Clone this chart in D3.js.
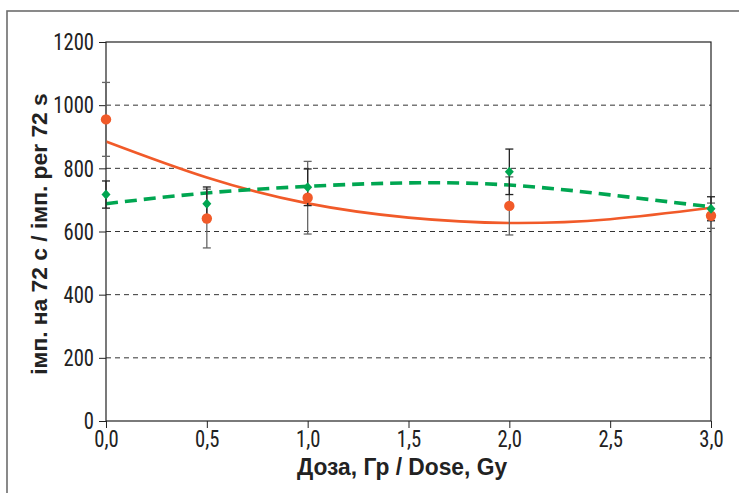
<!DOCTYPE html>
<html>
<head>
<meta charset="utf-8">
<script src="https://cdn.jsdelivr.net/npm/d3@7"></script>
<style>
  body { margin: 0; background: #fff; }
  svg { display: block; }
  .tick-label { font-family: "Liberation Sans Narrow", "Roboto Condensed", Arial, sans-serif; font-size: 24px; fill: #222; }
  .axis-title { font-family: "Liberation Sans Narrow", Arial, sans-serif; font-weight: bold; font-size: 24px; fill: #222; }
  .y-title { font-family: "Liberation Sans", Arial, sans-serif; font-weight: bold; font-size: 22.8px; fill: #222; }
</style>
</head>
<body>
<svg id="chart" width="739" height="493"></svg>
<script>
// measured points (dose in Gy)
const doses = [0, 0.5, 1, 2, 3];
const orangeMean = [955, 641, 707, 681, 650];
const orangeErr = [117, 93, 115, 92, 40];
const greenMean = [717, 688, 740, 789, 672];
const greenErr = [43, 53, 58, 72, 38];

// fitted trend curves
const fitX = [0, 0.5, 1, 1.5, 2, 2.5, 3];
const orangeFit = [885, 771, 689, 644, 627, 639, 675];
const greenFit = [688, 722, 743, 754, 747, 716, 678];

const xTicks = [0, 0.5, 1, 1.5, 2, 2.5, 3];
const yTicks = [0, 200, 400, 600, 800, 1000, 1200];
const gridTicks = [200, 400, 600, 800, 1000];

const ORANGE = '#f15a29';
const GREEN = '#00a651';
const SQUEEZE = 0.86; // labels in the original are very condensed

const svg = d3.select('#chart');

// outer frame
svg.append('rect')
  .attr('x', 7).attr('y', 11)
  .attr('width', 760).attr('height', 500)
  .attr('fill', 'none')
  .attr('stroke', '#6d6d6d')
  .attr('stroke-width', 1.6);

const plotLeft = 106, plotRight = 711, plotTop = 42, plotBottom = 421;

const x = d3.scaleLinear().domain([0, 3]).range([plotLeft, plotRight]);
const y = d3.scaleLinear().domain([0, 1200]).range([plotBottom, plotTop]);

// grid lines
svg.append('g').selectAll('line')
  .data(gridTicks)
  .enter().append('line')
  .attr('x1', plotLeft).attr('x2', plotRight)
  .attr('y1', d => y(d)).attr('y2', d => y(d))
  .attr('stroke', '#333')
  .attr('stroke-width', 1)
  .attr('stroke-dasharray', '5,4');

// plot box
svg.append('rect')
  .attr('x', plotLeft).attr('y', plotTop)
  .attr('width', plotRight - plotLeft).attr('height', plotBottom - plotTop)
  .attr('fill', 'none')
  .attr('stroke', '#222')
  .attr('stroke-width', 1.2);

// axes
const fmt = d => d.toFixed(1).replace('.', ',');

const xAxis = svg.append('g')
  .attr('transform', `translate(0,${plotBottom})`)
  .call(d3.axisBottom(x).tickValues(xTicks).tickSize(7).tickPadding(2).tickFormat(fmt));
xAxis.select('.domain').remove();
xAxis.attr('font-family', null).attr('font-size', null);
xAxis.selectAll('line').attr('stroke', '#222');
xAxis.selectAll('text')
  .attr('class', 'tick-label').attr('fill', null)
  .attr('transform', `scale(${SQUEEZE},1)`);

const yAxis = svg.append('g')
  .attr('transform', `translate(${plotLeft},0)`)
  .call(d3.axisLeft(y).tickValues(yTicks).tickSize(7).tickPadding(5).tickFormat(d => d));
yAxis.select('.domain').remove();
yAxis.attr('font-family', null).attr('font-size', null);
yAxis.selectAll('line').attr('stroke', '#222');
yAxis.selectAll('text')
  .attr('class', 'tick-label').attr('fill', null)
  .attr('x', -12 / SQUEEZE)
  .attr('transform', `scale(${SQUEEZE},1)`);

// axis titles
svg.append('text')
  .attr('class', 'axis-title')
  .attr('transform', 'translate(402,475) scale(0.95,1)')
  .attr('text-anchor', 'middle')
  .text('Доза, Гр / Dose, Gy');

svg.append('text')
  .attr('class', 'y-title')
  .attr('transform', 'translate(47,234) rotate(-90)')
  .attr('text-anchor', 'middle')
  .text('імп. на 72 с / імп. per 72 s');

// fitted curves
const line = (vals) => d3.line()
  .x((d, i) => x(fitX[i]))
  .y(d => y(d))
  .curve(d3.curveNatural)(vals);

svg.append('path')
  .attr('d', line(orangeFit))
  .attr('fill', 'none')
  .attr('stroke', ORANGE)
  .attr('stroke-width', 2.6);

svg.append('path')
  .attr('d', line(greenFit))
  .attr('fill', 'none')
  .attr('stroke', GREEN)
  .attr('stroke-width', 3.6)
  .attr('stroke-dasharray', '12,7');

// error bars
function errorBars(means, errs, color) {
  const g = svg.append('g').attr('stroke', color).attr('stroke-width', 1.3);
  doses.forEach((d, i) => {
    const cx = x(d), lo = y(means[i] - errs[i]), hi = y(means[i] + errs[i]);
    g.append('line').attr('x1', cx).attr('x2', cx).attr('y1', lo).attr('y2', hi);
    g.append('line').attr('x1', cx - 4).attr('x2', cx + 4).attr('y1', lo).attr('y2', lo);
    g.append('line').attr('x1', cx - 4).attr('x2', cx + 4).attr('y1', hi).attr('y2', hi);
  });
}
errorBars(orangeMean, orangeErr, '#666');
errorBars(greenMean, greenErr, '#222');

// markers
svg.append('g').selectAll('circle')
  .data(orangeMean)
  .enter().append('circle')
  .attr('cx', (d, i) => x(doses[i]))
  .attr('cy', d => y(d))
  .attr('r', 5.2)
  .attr('fill', ORANGE);

svg.append('g').selectAll('path')
  .data(greenMean)
  .enter().append('path')
  .attr('transform', (d, i) => `translate(${x(doses[i])},${y(d)})`)
  .attr('d', 'M0,-5L4.5,0L0,5L-4.5,0Z')
  .attr('fill', GREEN);
</script>
</body>
</html>
